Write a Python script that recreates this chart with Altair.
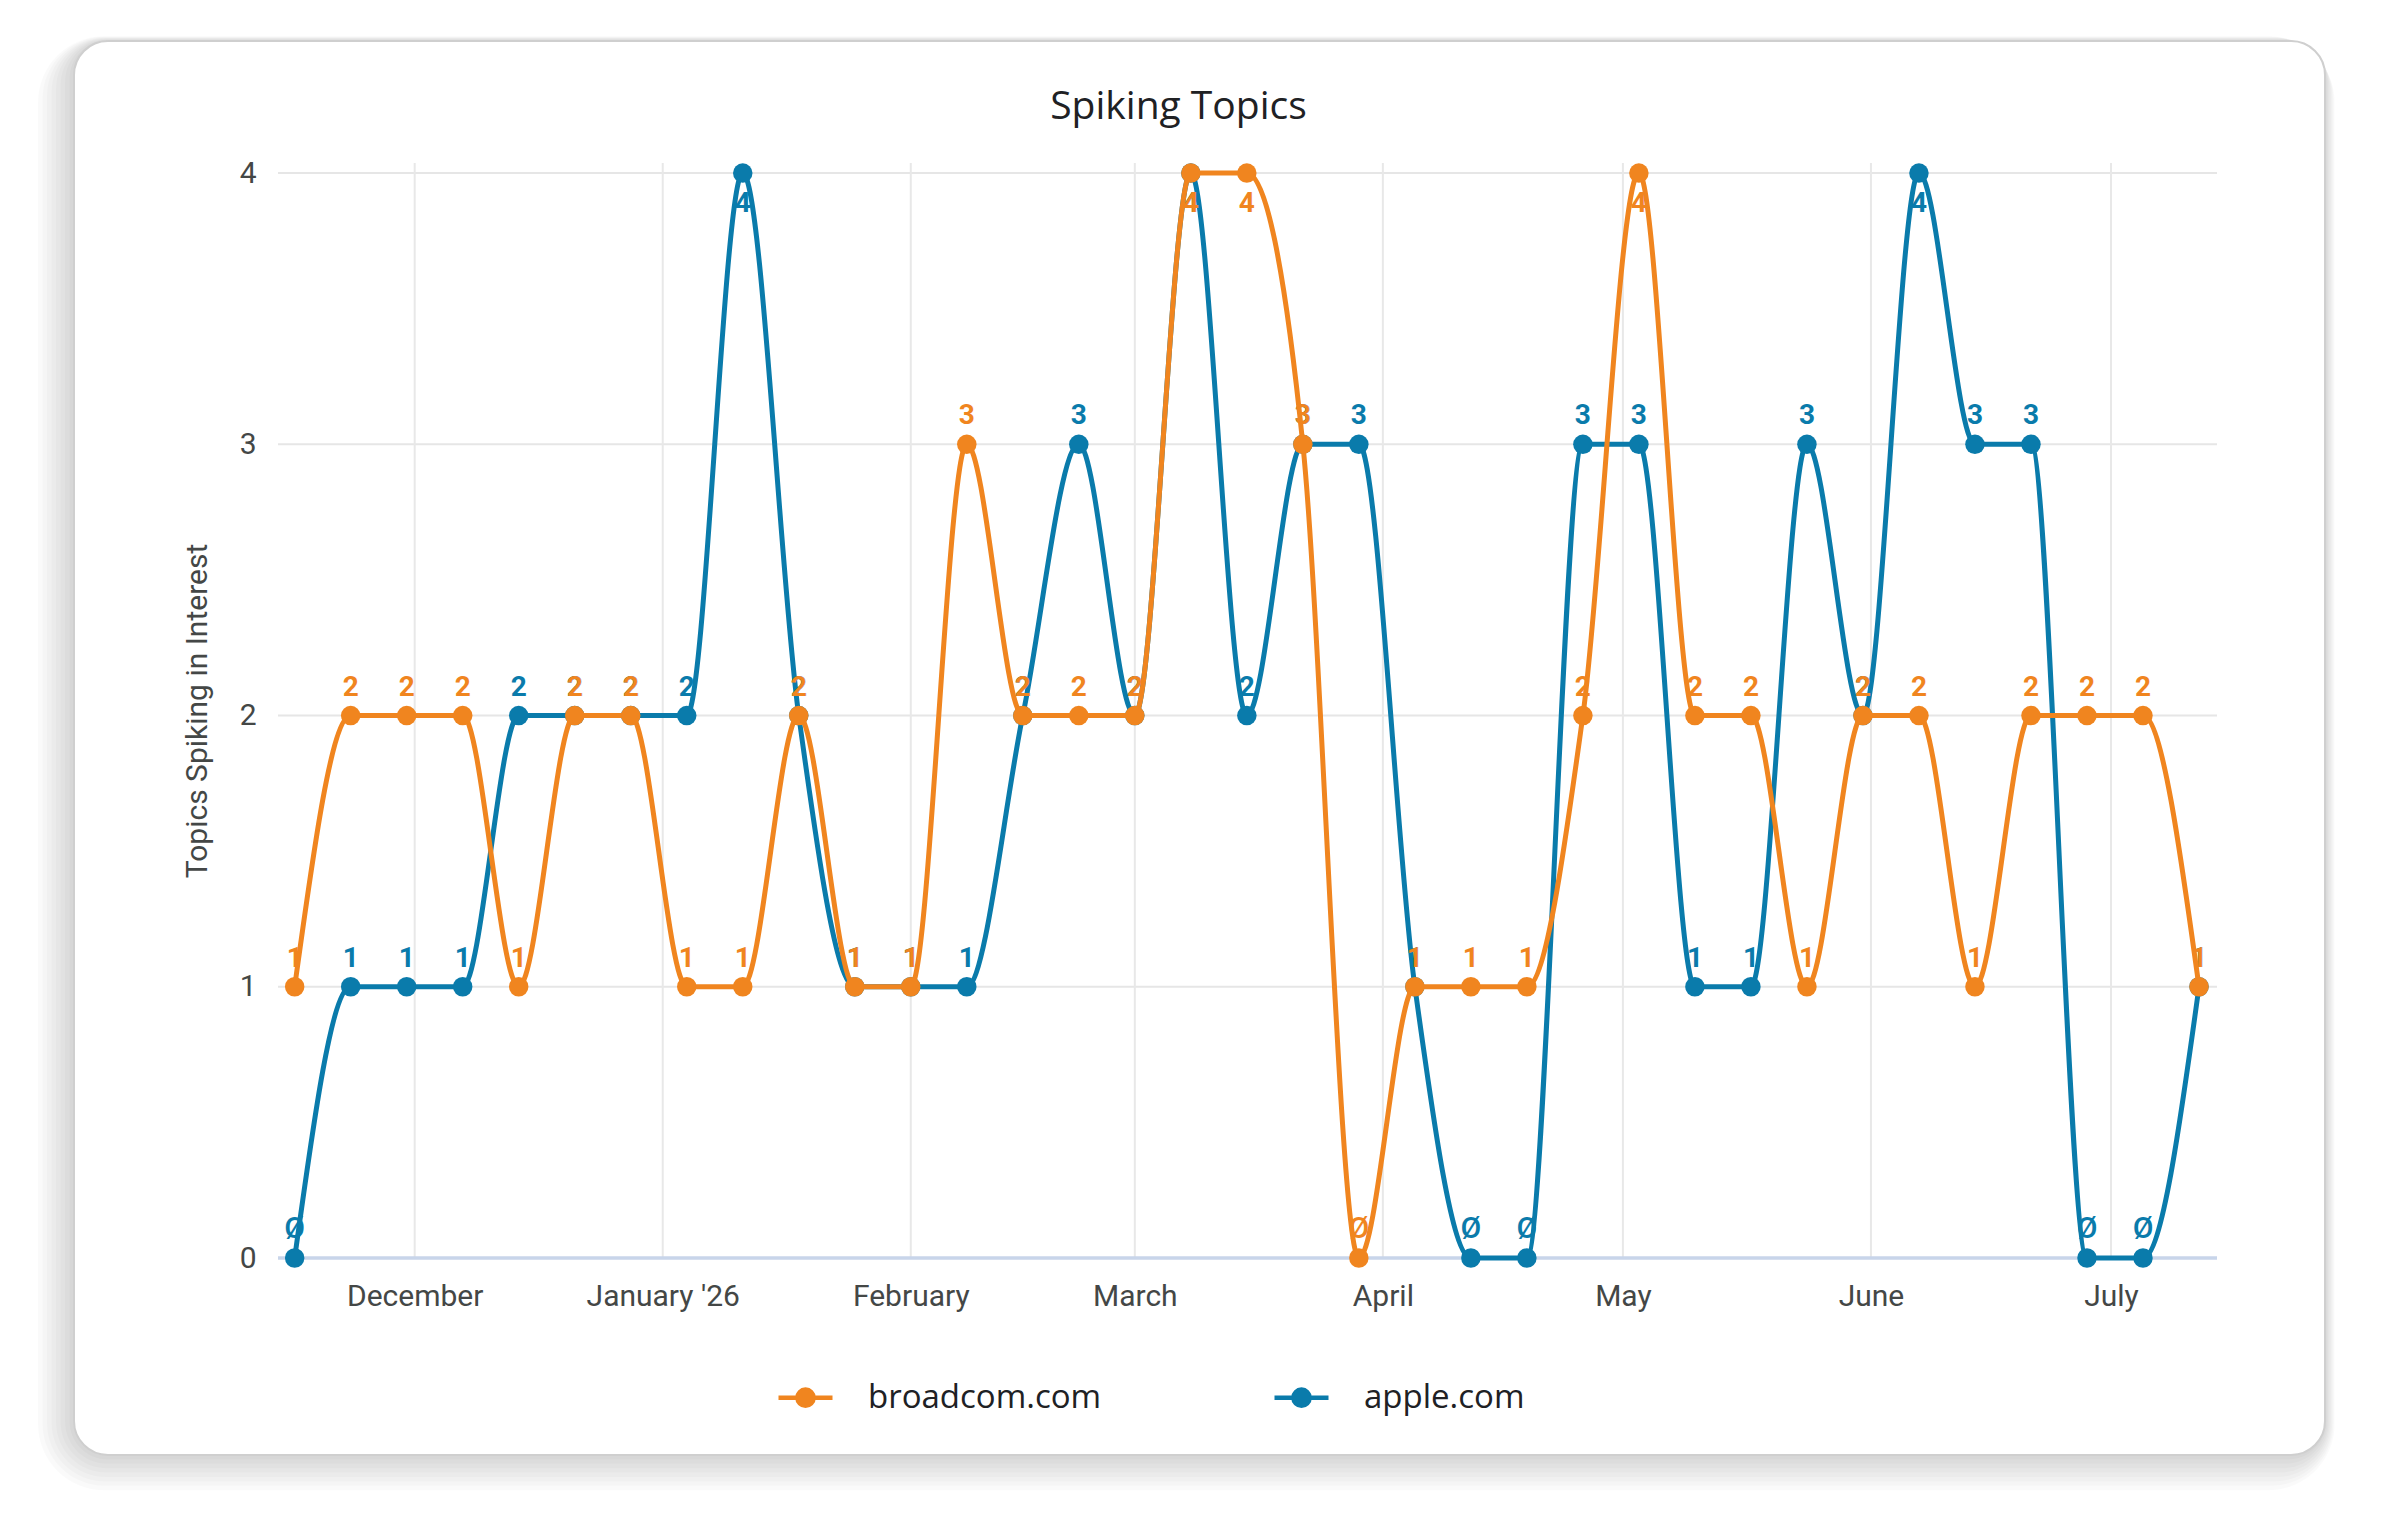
import altair as alt
import pandas as pd

# ---------------- data ----------------
dates = pd.date_range("2025-11-16", periods=35, freq="7D").strftime("%Y-%m-%dT00:00:00").tolist()
broadcom = [1, 2, 2, 2, 1, 2, 2, 1, 1, 2, 1, 1, 3, 2, 2, 2, 4, 4, 3, 0,
            1, 1, 1, 2, 4, 2, 2, 1, 2, 2, 1, 2, 2, 2, 1]
apple = [0, 1, 1, 1, 2, 2, 2, 2, 4, 2, 1, 1, 1, 2, 3, 2, 4, 2, 3, 3,
         1, 0, 0, 3, 3, 1, 1, 3, 2, 4, 3, 3, 0, 0, 1]
sites = ["broadcom.com", "apple.com"]
colors = ["#F0851F", "#0A7BAB"]
month_starts = ["2025-12-01T00:00:00", "2026-01-01T00:00:00", "2026-02-01T00:00:00",
                "2026-03-01T00:00:00", "2026-04-01T00:00:00", "2026-05-01T00:00:00",
                "2026-06-01T00:00:00", "2026-07-01T00:00:00"]
y_ticks = [0, 1, 2, 3, 4]

rows = []
for s, vals in zip(sites, [broadcom, apple]):
    for d, v in zip(dates, vals):
        rows.append({"date": d, "site": s, "value": v})
df = pd.DataFrame(rows)

W, H = 1939, 1095

x_scale = alt.Scale(domain=[alt.DateTime(year=2025, month=11, date=13, hours=22),
                            alt.DateTime(year=2026, month=7, date=14, hours=6)])
y_scale = alt.Scale(domain=[0, 4.037], nice=False, zero=True)
col_dom = alt.Scale(domain=sites, range=colors)

tick_vals = [alt.DateTime(year=int(m[:4]), month=int(m[5:7]), date=1) for m in month_starts]

x_axis = alt.Axis(values=tick_vals, grid=False, domain=False, ticks=False,
                  labelExpr="month(datum.value) == 0 ? \"January '\" + timeFormat(datum.value, '%y') : timeFormat(datum.value, '%B')",
                  labelFont="Roboto", labelFontSize=30, labelColor="#444746",
                  labelPadding=23, title=None, zindex=1, labelOverlap=False)
y_axis = alt.Axis(values=y_ticks, format="d", grid=False, domain=False, ticks=False,
                  labelFont="Roboto", labelFontSize=30, labelColor="#444746",
                  labelPadding=22, title="Topics Spiking in Interest",
                  titleFont="Roboto", titleFontSize=30, titleFontWeight="normal",
                  titleColor="#444746", titlePadding=27, zindex=1)

one = pd.DataFrame({"a": [0]})

layers = []
# card shadow
L, R, T, B = -204, 2047, -122, 1292
for k in range(8, 0, -1):
    layers.append(
        alt.Chart(one).mark_rect(fill="#000000", opacity=0.018, cornerRadius=34 + 4 * k).encode(
            x=alt.value(L - 4.5 * k), x2=alt.value(R + 1.2 * k),
            y=alt.value(T - 0.6 * k), y2=alt.value(B + 4.4 * k))
    )
layers.append(
    alt.Chart(one).mark_rect(fill="#ffffff", stroke="#cfcfcf", strokeWidth=2, cornerRadius=34).encode(
        x=alt.value(L), x2=alt.value(R), y=alt.value(T), y2=alt.value(B))
)

# grid lines
ygrid = pd.DataFrame({"v": y_ticks[1:]})
layers.append(
    alt.Chart(ygrid).mark_rule(color="#e6e6e6", strokeWidth=2).encode(
        y=alt.Y("v:Q", scale=y_scale, axis=y_axis), x=alt.value(0), x2=alt.value(W))
)
xgrid = pd.DataFrame({"d": month_starts})
layers.append(
    alt.Chart(xgrid).mark_rule(color="#e8e8e8", strokeWidth=2).encode(
        x=alt.X("d:T", scale=x_scale, axis=x_axis), y=alt.value(0), y2=alt.value(H))
)
base = pd.DataFrame({"v": [0]})
layers.append(
    alt.Chart(base).mark_rule(color="#c8d5ea", strokeWidth=3.5).encode(
        y=alt.Y("v:Q", scale=y_scale), x=alt.value(0), x2=alt.value(W))
)

circ = "".join(
    f"M-{r},0A{r},{r},0,1,1,{r},0A{r},{r},0,1,1,-{r},0" for r in [0.06, 0.14, 0.22, 0.30]
)
legend = alt.Legend(orient="none", legendX=498, legendY=1205, direction="horizontal", title=None,
                    labelFont="Open Sans", labelFontSize=33, labelFontWeight=500,
                    labelColor="#202124", labelLimit=600,
                    symbolType="M-1,0H1" + circ,
                    symbolSize=2916, symbolStrokeWidth=4.5, labelOffset=33, columnPadding=163,
                    padding=0, zindex=1)

for s in ["apple.com", "broadcom.com"]:
    src = alt.Chart(df).transform_filter(alt.datum.site == s)
    xenc = alt.X("date:T", scale=x_scale)
    yenc = alt.Y("value:Q", scale=y_scale)
    cenc = alt.Color("site:N", scale=col_dom, legend=None)
    layers.append(
        src.mark_line(interpolate="monotone", strokeWidth=5).encode(
            x=xenc, y=yenc, stroke=alt.Stroke("site:N", scale=col_dom, legend=legend))
    )
    layers.append(
        src.mark_point(filled=True, size=380, opacity=1, shape="circle").encode(
            x=xenc, y=yenc, fill=alt.Fill("site:N", scale=col_dom, legend=None))
    )
    lab = src.transform_calculate(label="datum.value == 0 ? 'Ø' : '' + datum.value")
    layers.append(
        lab.transform_filter((alt.datum.value < 4) & (alt.datum.value > 0)).mark_text(
            font="Roboto", fontWeight="bold", fontSize=28, baseline="middle", dy=-28).encode(
            x=xenc, y=yenc, text="label:N", color=cenc)
    )
    layers.append(
        lab.transform_filter(alt.datum.value == 0).mark_text(
            font="Roboto", fontWeight=500, fontSize=30, baseline="middle", dy=-29).encode(
            x=xenc, y=yenc, text="label:N", color=cenc)
    )
    layers.append(
        lab.transform_filter(alt.datum.value == 4).mark_text(
            font="Roboto", fontWeight="bold", fontSize=28, baseline="middle", dy=31).encode(
            x=xenc, y=yenc, text="label:N", color=cenc)
    )

chart = alt.layer(*layers).properties(
    width=W, height=H,
    title=alt.Title("Spiking Topics", font="Open Sans", fontSize=39, fontWeight="normal",
                    color="#202124", anchor="middle", frame="group", dx=-69,
                    baseline="alphabetic", offset=-122, zindex=1),
    autosize=alt.AutoSizeParams(type="none"),
    padding={"left": 270, "top": 155, "right": 150, "bottom": 240},
).configure_view(stroke=None).configure(background="#ffffff")

chart.save("out.html", embed_options={"renderer": "svg", "actions": False})
